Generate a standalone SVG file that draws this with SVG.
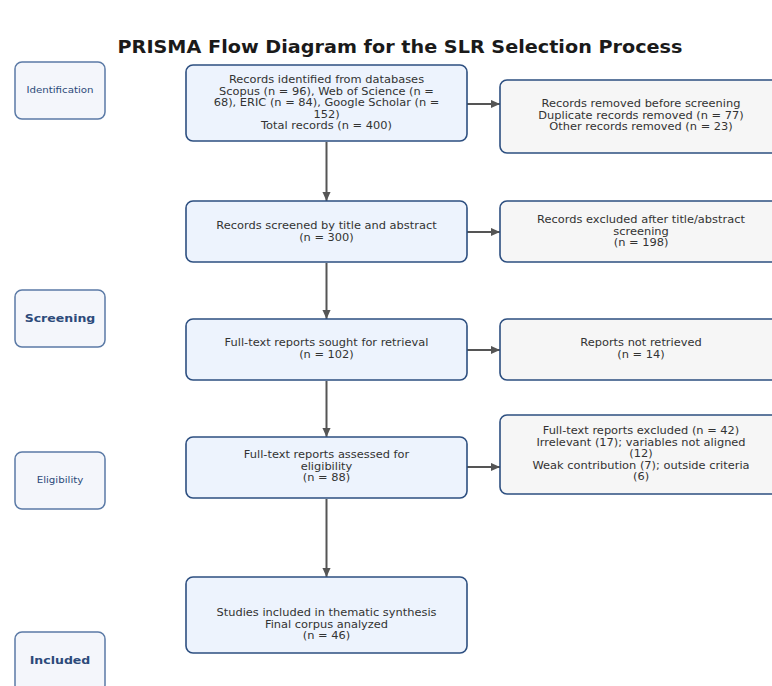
<svg xmlns="http://www.w3.org/2000/svg" width="772" height="686" viewBox="0 0 772 686">
<defs>
<marker id="arr" viewBox="0 0 10 10" refX="10" refY="5" markerWidth="9" markerHeight="9" orient="auto" markerUnits="userSpaceOnUse"><path d="M0,0.5 L10,5 L0,9.5 z" fill="#555"/></marker>
</defs>
<style>
text{font-family:"DejaVu Sans","Liberation Sans",sans-serif;}
.title{font-size:17px;font-weight:bold;fill:#1a1a1a;text-anchor:middle;}
.main{fill:#edf3fd;stroke:#2d4f80;stroke-width:1.6;}
.side{fill:#f6f6f6;stroke:#2d4f80;stroke-width:1.6;}
.stage{fill:#f4f6fb;stroke:#5b7aa6;stroke-width:1.5;}
.t{font-size:10px;fill:#333;text-anchor:middle;}
.st{font-size:9px;fill:#2c4a7a;text-anchor:middle;}
.stb{font-size:11px;font-weight:bold;fill:#2c4a7a;text-anchor:middle;}
.c{stroke:#555;stroke-width:2;fill:none;}
</style>
<rect width="772" height="686" fill="#fff"/>
<g transform="scale(1.13,1)"><text class="title" x="354" y="53">PRISMA Flow Diagram for the SLR Selection Process</text></g>

<g id="stage-identification"><rect class="stage" x="15" y="62" width="90" height="57" rx="7"/><g transform="scale(1.14,1)"><text class="st" x="52.63" y="93.5">Identification</text></g></g>
<g id="stage-screening"><rect class="stage" x="15" y="290" width="90" height="57" rx="7"/><g transform="scale(1.14,1)"><text class="stb" x="52.63" y="322">Screening</text></g></g>
<g id="stage-eligibility"><rect class="stage" x="15" y="452" width="90" height="57" rx="7"/><g transform="scale(1.14,1)"><text class="st" x="52.63" y="483.5">Eligibility</text></g></g>
<g id="stage-included"><rect class="stage" x="15" y="632" width="90" height="60" rx="7"/><g transform="scale(1.14,1)"><text class="stb" x="52.63" y="664">Included</text></g></g>

<g id="connectors">
<line class="c" x1="326.5" y1="142" x2="326.5" y2="201" marker-end="url(#arr)"/>
<line class="c" x1="326.5" y1="263" x2="326.5" y2="319" marker-end="url(#arr)"/>
<line class="c" x1="326.5" y1="381" x2="326.5" y2="437" marker-end="url(#arr)"/>
<line class="c" x1="326.5" y1="499" x2="326.5" y2="577" marker-end="url(#arr)"/>
<line class="c" x1="467" y1="104" x2="500" y2="104" marker-end="url(#arr)"/>
<line class="c" x1="467" y1="232" x2="500" y2="232" marker-end="url(#arr)"/>
<line class="c" x1="467" y1="350" x2="500" y2="350" marker-end="url(#arr)"/>
<line class="c" x1="467" y1="467" x2="500" y2="467" marker-end="url(#arr)"/>
</g>

<g id="n-identified"><rect class="main" x="186" y="65" width="281" height="76" rx="7"/>
<g transform="scale(1.14,1)">
<text class="t" x="286.4" y="83.5">Records identified from databases</text>
<text class="t" x="286.4" y="95">Scopus (n = 96), Web of Science (n =</text>
<text class="t" x="286.4" y="106.5">68), ERIC (n = 84), Google Scholar (n =</text>
<text class="t" x="286.4" y="118">152)</text>
<text class="t" x="286.4" y="129.5">Total records (n = 400)</text></g></g>

<g id="n-removed"><rect class="side" x="500" y="80" width="282" height="73" rx="7"/>
<g transform="scale(1.14,1)">
<text class="t" x="562.3" y="107.5">Records removed before screening</text>
<text class="t" x="562.3" y="119">Duplicate records removed (n = 77)</text>
<text class="t" x="562.3" y="130.5">Other records removed (n = 23)</text></g></g>

<g id="n-screened"><rect class="main" x="186" y="201" width="281" height="61" rx="7"/>
<g transform="scale(1.14,1)">
<text class="t" x="286.4" y="229.5">Records screened by title and abstract</text>
<text class="t" x="286.4" y="241">(n = 300)</text></g></g>

<g id="n-excluded-ta"><rect class="side" x="500" y="201" width="282" height="61" rx="7"/>
<g transform="scale(1.14,1)">
<text class="t" x="562.3" y="223.5">Records excluded after title/abstract</text>
<text class="t" x="562.3" y="235">screening</text>
<text class="t" x="562.3" y="246.5">(n = 198)</text></g></g>

<g id="n-sought"><rect class="main" x="186" y="319" width="281" height="61" rx="7"/>
<g transform="scale(1.14,1)">
<text class="t" x="286.4" y="346.5">Full-text reports sought for retrieval</text>
<text class="t" x="286.4" y="358">(n = 102)</text></g></g>

<g id="n-not-retrieved"><rect class="side" x="500" y="319" width="282" height="61" rx="7"/>
<g transform="scale(1.14,1)">
<text class="t" x="562.3" y="346.5">Reports not retrieved</text>
<text class="t" x="562.3" y="358">(n = 14)</text></g></g>

<g id="n-assessed"><rect class="main" x="186" y="437" width="281" height="61" rx="7"/>
<g transform="scale(1.14,1)">
<text class="t" x="286.4" y="458.5">Full-text reports assessed for</text>
<text class="t" x="286.4" y="470">eligibility</text>
<text class="t" x="286.4" y="481.5">(n = 88)</text></g></g>

<g id="n-ft-excluded"><rect class="side" x="500" y="415" width="282" height="79" rx="7"/>
<g transform="scale(1.14,1)">
<text class="t" x="562.3" y="434.5">Full-text reports excluded (n = 42)</text>
<text class="t" x="562.3" y="446">Irrelevant (17); variables not aligned</text>
<text class="t" x="562.3" y="457.5">(12)</text>
<text class="t" x="562.3" y="469">Weak contribution (7); outside criteria</text>
<text class="t" x="562.3" y="480.5">(6)</text></g></g>

<g id="n-included"><rect class="main" x="186" y="577" width="281" height="76" rx="7"/>
<g transform="scale(1.14,1)">
<text class="t" x="286.4" y="616.5">Studies included in thematic synthesis</text>
<text class="t" x="286.4" y="628">Final corpus analyzed</text>
<text class="t" x="286.4" y="639.5">(n = 46)</text></g></g>
</svg>
